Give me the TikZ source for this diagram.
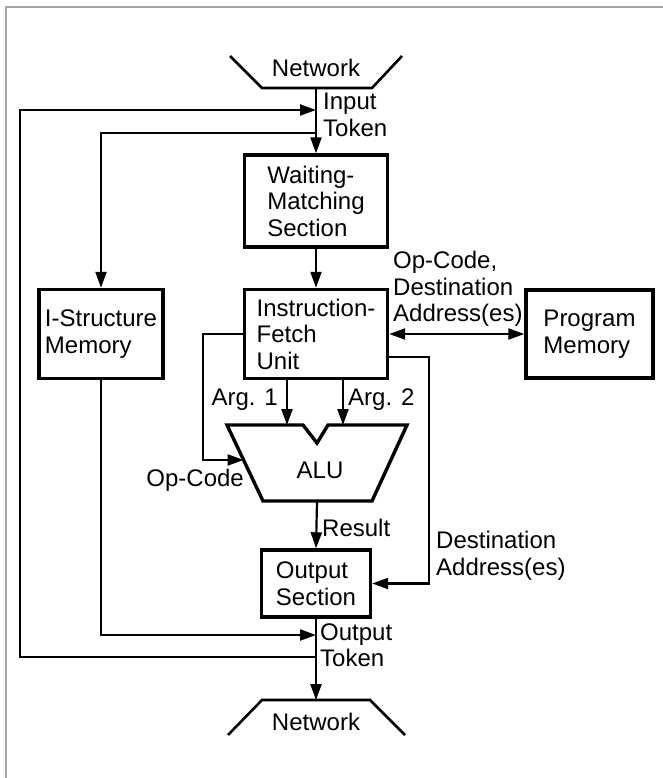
\documentclass[tikz,border=0pt]{standalone}
\usepackage{fontspec}
\setmainfont{Liberation Sans}
\usetikzlibrary{arrows.meta, positioning, calc}

\begin{document}
\begin{tikzpicture}[
    x=1pt, y=-1pt,
    >={Triangle[length=16pt,width=11pt]},
    font=\fontsize{24}{26.5}\selectfont,
    block/.style={rectangle, draw=black, line width=3.4pt, fill=white, align=left, inner sep=0pt},
    conn/.style={line width=2.2pt, black},
    flow/.style={conn, ->},
    lbl/.style={align=left, inner sep=1pt},
    netw/.style={line width=2.6pt, black}
]
    \useasboundingbox (0,0) rectangle (663,778);

    % Frame
    \draw[gray!70, line width=1.4pt] (6,778) -- (6,7) -- (663,7);

    % ========== Network (top) ==========
    \draw[netw] (230,56) -- (262,88) -- (372,88) -- (402,56);
    \node (netin) at (316,68) {Network};
    \coordinate (netinb) at (316,88);

    % ========== Blocks ==========
    \node (wms) [block, minimum width=143pt, minimum height=92pt] at (316,201) {Waiting-\\Matching\\Section};
    \node (ifu) [block, minimum width=143pt, minimum height=89pt] at (316,334) {Instruction-\\Fetch\\Unit};
    \node (ism) [block, minimum width=124pt, minimum height=89pt] at (101,334) {I-Structure\\Memory};
    \node (pm) [block, minimum width=127pt, minimum height=88pt] at (589.5,334) {Program\\Memory};
    \node (out) [block, minimum width=109pt, minimum height=67pt] at (316,583.5) {Output\\Section};

    % ALU
    \coordinate (alutl) at (227,425);
    \coordinate (alutr) at (407,425);
    \coordinate (alubl) at (263,501);
    \coordinate (alubr) at (372,501);
    \draw[line width=3.4pt, line join=miter] (alutl) -- (303,425) -- (317,443) -- (328,425)
        -- (alutr) -- (alubr) -- (alubl) -- cycle;
    \node (alu) at (320,470) {ALU};
    \coordinate (a1) at (287,425);
    \coordinate (a2) at (343,425);
    \coordinate (alub) at (317,501);
    \coordinate (aluop) at ($(alutl)!0.46!(alubl)$);

    % ========== Junctions ==========
    \coordinate (j1) at (316,110);
    \coordinate (j2) at (316,133);
    \coordinate (j3) at (316,635);
    \coordinate (j4) at (316,657);
    \coordinate (loopx) at (20,400);
    \coordinate (opx) at (203,400);
    \coordinate (dstx) at (429,450);

    % ========== Network (bottom) ==========
    \draw[netw] (228,735) -- (262,700) -- (370,700) -- (405,735);
    \node (netout) at (316,722) {Network};
    \coordinate (netoutt) at (316,700);

    % Main path
    \draw[flow] (netinb) -- (wms.north);
    \draw[flow] (wms.south) -- (ifu.north);
    \draw[flow] (ifu.south -| a1) -- (a1);
    \draw[flow] (ifu.south -| a2) -- (a2);
    \draw[flow] (alub) -- (out.north);
    \draw[flow] (out.south) -- (netoutt);

    % Side paths
    \draw[conn, <->] (ifu.east) -- (pm.west);
    \draw[flow] (ifu.west) -| (opx) |- (aluop);
    \draw[flow] ([yshift=-23pt]ifu.east) -| (dstx) |- (out.east);
    \draw[flow] (j2) -| (ism.north);
    \draw[flow] (ism.south) |- (j3);
    \draw[flow] (j4) -| (loopx) |- (j1);

    % Labels
    \node[lbl, anchor=west] (intok) at (322,115) {Input\\Token};
    \node[lbl, anchor=west] (opdst) at (392,289) {Op-Code,\\Destination\\Address(es)};
    \node[lbl, anchor=east] (arg1) at (279,400) {Arg. 1};
    \node[lbl, anchor=west] (arg2) at (347,400) {Arg. 2};
    \node[lbl, anchor=east] (opc) at (245,480) {Op-Code};
    \node[lbl, anchor=west] (res) at (321,528) {Result};
    \node[lbl, anchor=west] (dst) at (435,556) {Destination\\Address(es)};
    \node[lbl, anchor=west] (outtok) at (319,645) {Output\\Token};
\end{tikzpicture}
\end{document}
